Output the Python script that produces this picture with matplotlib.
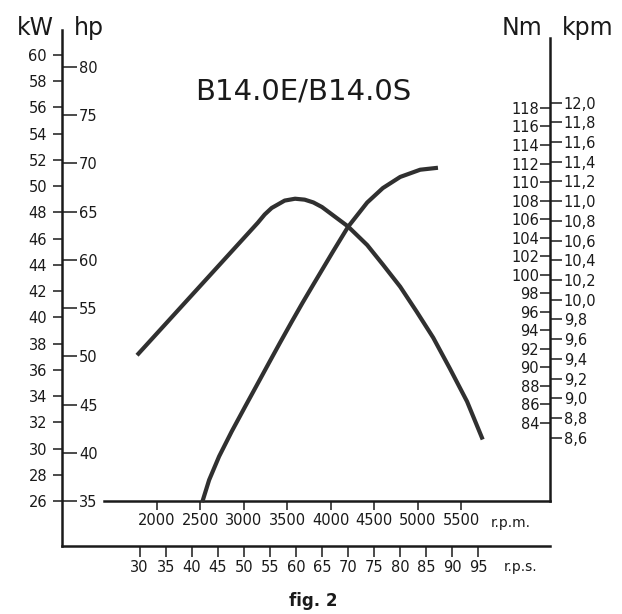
import numpy as np
import matplotlib
matplotlib.use("Agg")
import matplotlib.pyplot as plt

# ------------------------------------------------------------
# data
# ------------------------------------------------------------
torque_rpm = [1770, 2470, 3160, 3240, 3320, 3470, 3590, 3700, 3800, 3900,
              4200, 4420, 4600, 4800, 4990, 5180, 5370, 5570, 5750]
torque_nm = [91.3, 98.5, 105.6, 106.5, 107.2, 108.0, 108.2, 108.1, 107.8, 107.3,
             105.2, 103.2, 101.1, 98.7, 96.0, 93.2, 89.9, 86.3, 82.2]

power_rpm = [2520, 2600, 2715, 2860, 3015, 3180, 3295, 3415, 3550, 3675, 3800,
             4025, 4200, 4420, 4600, 4800, 5030, 5235]
power_kw = [25.9, 27.6, 29.4, 31.3, 33.2, 35.2, 36.6, 38.05, 39.65, 41.1, 42.5,
            45.0, 46.9, 48.75, 49.85, 50.7, 51.25, 51.4]

kw_ticks = list(range(26, 61, 2))
hp_ticks = list(range(35, 81, 5))
nm_ticks = list(range(84, 119, 2))
kpm_ticks = [8.6, 8.8, 9.0, 9.2, 9.4, 9.6, 9.8, 10.0, 10.2, 10.4,
             10.6, 10.8, 11.0, 11.2, 11.4, 11.6, 11.8, 12.0]
rpm_ticks = [2000, 2500, 3000, 3500, 4000, 4500, 5000, 5500]
rps_ticks = [30, 35, 40, 45, 50, 55, 60, 65, 70, 75, 80, 85, 90, 95]


# scales as printed on the chart
def hp_to_kw(hp):
    return 26 + (hp - 35) * 0.7355


def kpm_to_nm(k):
    return 82.4 + (k - 8.6) * 10.64


plt.rcParams['font.family'] = 'DejaVu Sans'

INK = '#1a1a1a'
CURVE = '#303030'
LAB = 10.5

fig = plt.figure(figsize=(6.22, 6.14), dpi=100)
ax = fig.add_axes([62 / 622, 68 / 614, 488 / 622, 516 / 614])

KW_LIM = (22.57, 61.90)
NM_LIM = (70.70, 126.42)
ax.set_xlim(906, 6525)
ax.set_ylim(*KW_LIM)

# power curve on kW scale
ax.plot(power_rpm, power_kw, color=CURVE, lw=3, solid_capstyle='butt', solid_joinstyle='round')

# kW axis (left side of left line)
for s in ['top', 'right']:
    ax.spines[s].set_visible(False)
for s in ['left', 'bottom']:
    ax.spines[s].set_linewidth(1.8)
    ax.spines[s].set_color(INK)
ax.set_yticks(kw_ticks)
ax.set_yticklabels([str(v) for v in kw_ticks])
ax.tick_params(axis='y', direction='out', length=6.5, width=1.1, pad=4.3,
               labelsize=LAB, colors=INK)

# r.p.s. axis on the bottom line
ax.set_xticks([v * 60 for v in rps_ticks])
ax.set_xticklabels([str(v) for v in rps_ticks])
ax.tick_params(axis='x', direction='out', length=8, width=1.1, pad=2,
               labelsize=LAB, colors=INK)

# hp axis (right side of left line)
ax_hp = ax.twinx()
ax_hp.set_ylim(*KW_LIM)
for s in ['top', 'left', 'bottom', 'right']:
    ax_hp.spines[s].set_visible(False)
ax_hp.spines['right'].set_position(('axes', 0.0))
ax_hp.set_yticks([hp_to_kw(h) for h in hp_ticks])
ax_hp.set_yticklabels([str(h) for h in hp_ticks])
ax_hp.tick_params(axis='y', direction='out', length=10.8, width=1.1, pad=1.4,
                  labelsize=LAB, colors=INK)

# Nm axis (left side of right line)
ax_nm = ax.twinx()
ax_nm.set_ylim(*NM_LIM)
for s in ['top', 'left', 'bottom', 'right']:
    ax_nm.spines[s].set_visible(False)
ax_nm.yaxis.tick_left()
ax_nm.spines['left'].set_position(('axes', 1.0))
ax_nm.set_yticks(nm_ticks)
ax_nm.set_yticklabels([str(v) for v in nm_ticks])
ax_nm.tick_params(axis='y', direction='out', length=7.2, width=1.1, pad=0.7,
                  labelsize=LAB, colors=INK)
ax_nm.plot(torque_rpm, torque_nm, color=CURVE, lw=3, solid_capstyle='butt', solid_joinstyle='round')

# kpm axis (right side of right line)
ax_kpm = ax.twinx()
ax_kpm.set_ylim(*NM_LIM)
for s in ['top', 'left', 'bottom']:
    ax_kpm.spines[s].set_visible(False)
ax_kpm.spines['right'].set_linewidth(1.8)
ax_kpm.spines['right'].set_color(INK)
ax_kpm.spines['right'].set_bounds(75.56, 125.56)
ax_kpm.set_yticks([kpm_to_nm(k) for k in kpm_ticks])
ax_kpm.set_yticklabels([f"{k:.1f}".replace('.', ',') for k in kpm_ticks])
ax_kpm.tick_params(axis='y', direction='out', length=8.6, width=1.1, pad=1.4,
                   labelsize=LAB, colors=INK)

# r.p.m. axis on the kW = 26 line
level = (26 - KW_LIM[0]) / (KW_LIM[1] - KW_LIM[0])
sec = ax.secondary_xaxis(level)
sec.spines['bottom'].set_linewidth(1.8)
sec.spines['bottom'].set_color(INK)
sec.spines['bottom'].set_bounds(1390, 6525)
sec.set_xticks(rpm_ticks)
sec.set_xticklabels([str(v) for v in rpm_ticks])
sec.tick_params(axis='x', direction='out', length=6.5, width=1.1, pad=2,
                labelsize=LAB, colors=INK)

# texts
fig.text(35 / 622, 1 - 35 / 614, 'kW', ha='center', va='baseline', fontsize=17, color=INK)
fig.text(89 / 622, 1 - 35 / 614, 'hp', ha='center', va='baseline', fontsize=17, color=INK)
fig.text(522 / 622, 1 - 35 / 614, 'Nm', ha='center', va='baseline', fontsize=17, color=INK)
fig.text(588 / 622, 1 - 35 / 614, 'kpm', ha='center', va='baseline', fontsize=17, color=INK)
fig.text(303 / 622, 1 - 92 / 614, 'B14.0E/B14.0S', ha='center', va='center', fontsize=21, color=INK)
fig.text(511 / 622, 1 - 523 / 614, 'r.p.m.', ha='center', va='center', fontsize=10, color=INK)
fig.text(521 / 622, 1 - 567 / 614, 'r.p.s.', ha='center', va='center', fontsize=10, color=INK)
fig.text(313 / 622, 1 - 601 / 614, 'fig. 2', ha='center', va='center', fontsize=12,
         fontweight='bold', color=INK)

fig.savefig('out.png', dpi=100)
